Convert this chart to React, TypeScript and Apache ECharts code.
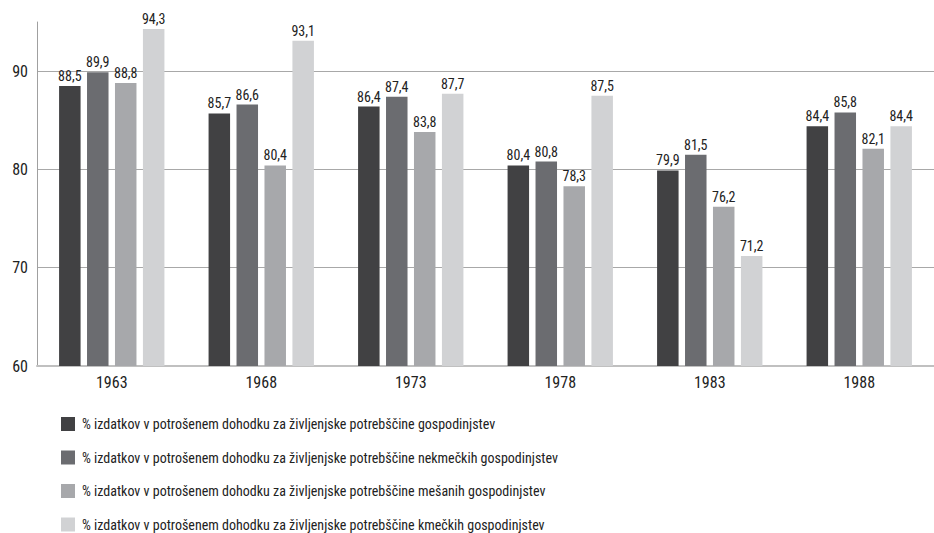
import React, { useEffect, useRef } from "react";
import * as echarts from "echarts";

const categories = ["1963", "1968", "1973", "1978", "1983", "1988"];
const seriesNames = [
  "% izdatkov v potrošenem dohodku za življenjske potrebščine gospodinjstev",
  "% izdatkov v potrošenem dohodku za življenjske potrebščine nekmečkih gospodinjstev",
  "% izdatkov v potrošenem dohodku za življenjske potrebščine mešanih gospodinjstev",
  "% izdatkov v potrošenem dohodku za življenjske potrebščine kmečkih gospodinjstev",
];
const allHouseholds = [88.5, 85.7, 86.4, 80.4, 79.9, 84.4];
const nonFarm = [89.9, 86.6, 87.4, 80.8, 81.5, 85.8];
const mixed = [88.8, 80.4, 83.8, 78.3, 76.2, 82.1];
const farm = [94.3, 93.1, 87.7, 87.5, 71.2, 84.4];
const seriesValues = [allHouseholds, nonFarm, mixed, farm];
const colors = ["#414143", "#6b6c70", "#a7a8ab", "#d1d2d4"];

const FONT = "'Roboto Condensed', 'DejaVu Sans Condensed', sans-serif";

export default function App() {
  const ref = useRef<HTMLDivElement>(null);
  useEffect(() => {
    if (!ref.current) return;
    const chart = echarts.init(ref.current, undefined, { renderer: "svg" });
    chart.setOption({
      animation: false,
      textStyle: { fontFamily: FONT },
      grid: { left: 37, right: -10, top: 22, bottom: 167, containLabel: false },
      legend: {
        orient: "vertical",
        left: 61,
        top: 417,
        height: 116,
        padding: 0,
        itemWidth: 14,
        itemHeight: 14,
        itemGap: 19.5,
        icon: "rect",
        textStyle: { fontFamily: FONT, fontSize: 14, color: "#222", padding: [0, 0, 0, 2] },
        data: seriesNames,
      },
      xAxis: {
        type: "category",
        data: categories,
        axisTick: { show: false },
        axisLine: { lineStyle: { color: "#c0c0c0", width: 2 } },
        axisLabel: { color: "#222", fontSize: 16, margin: 8, fontFamily: FONT },
      },
      yAxis: {
        type: "value",
        min: 60,
        max: 95,
        interval: 10,
        axisLine: { show: true, lineStyle: { color: "#a0a0a0", width: 1 } },
        axisTick: { show: false },
        axisLabel: { color: "#222", fontSize: 16, margin: 9, showMaxLabel: false, fontFamily: FONT },
        splitLine: {
          show: true,
          lineStyle: { color: ["#b0b0b0", "#a8a8a8", "#a8a8a8", "#a8a8a8", "rgba(0,0,0,0)"], width: 1 },
        },
      },
      series: seriesValues.map((vals, i) => ({
        name: seriesNames[i],
        type: "bar",
        data: vals,
        barWidth: 21.5,
        barGap: "30%",
        itemStyle: { color: colors[i] },
        label: {
          show: true,
          position: "top",
          distance: 3,
          color: "#222",
          fontSize: 14,
          fontFamily: FONT,
          formatter: (p: any) => String(p.value.toFixed(1)).replace(".", ","),
        },
      })),
    });
    return () => chart.dispose();
  }, []);
  return (
    <div
      ref={ref}
      style={{ position: "fixed", left: 0, top: 0, width: 934, height: 533, background: "#fff" }}
    />
  );
}
